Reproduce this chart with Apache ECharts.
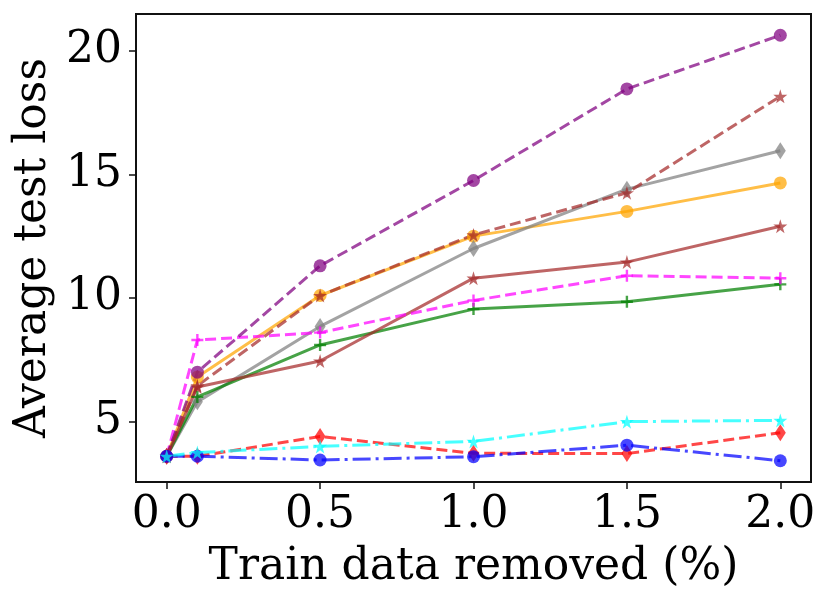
<!DOCTYPE html>
<html>
<head>
<meta charset="utf-8">
<script src="https://cdn.jsdelivr.net/npm/echarts@6/dist/echarts.min.js"></script>
<style>
  html, body { margin: 0; padding: 0; background: #fff; }
  #chart { width: 831px; height: 605px; }
</style>
</head>
<body>
<div id="chart"></div>
<script>
// x positions (% train data removed)
var xs = [0, 0.1, 0.5, 1.0, 1.5, 2.0];
var xTicks = [0, 0.5, 1.0, 1.5, 2.0];
var yTicks = [5, 10, 15, 20];

// series values
var purpleDash = [3.6, 7.0, 11.3, 14.75, 18.45, 20.62];
var brownDash = [3.6, 6.45, 10.1, 12.55, 14.25, 18.15];
var orangeSolid = [3.6, 6.8, 10.1, 12.5, 13.5, 14.65];
var graySolid = [3.6, 5.8, 8.85, 12.0, 14.4, 15.95];
var brownSolid = [3.6, 6.4, 7.45, 10.8, 11.45, 12.9];
var magentaDash = [3.6, 8.3, 8.6, 9.9, 10.9, 10.8];
var greenSolid = [3.6, 6.0, 8.1, 9.55, 9.85, 10.55];
var redDash = [3.6, 3.6, 4.4, 3.72, 3.71, 4.55];
var cyanDashDot = [3.6, 3.75, 4.0, 4.2, 5.0, 5.05];
var blueDashDot = [3.6, 3.6, 3.45, 3.58, 4.05, 3.42];

var STAR = 'path://M50,0 L61,35 L98,35 L68,57 L79,91 L50,70 L21,91 L32,57 L2,35 L39,35 Z';
var PLUS = 'path://M4,0 H6 V4 H10 V6 H6 V10 H4 V6 H0 V4 H4 Z';
var DASH = [11, 5];
var DASHDOT = [18, 5, 3, 5];
var FONT = 'DejaVu Serif';

function pairs(vals) {
  return xs.map(function (x, i) { return [x, vals[i]]; });
}

function line(vals, color, dash, symbol, size) {
  return {
    type: 'line',
    data: pairs(vals),
    symbol: symbol,
    symbolSize: size,
    showAllSymbol: true,
    animation: false,
    lineStyle: { color: color, width: 3, type: dash, opacity: 0.72 },
    itemStyle: { color: color, opacity: 0.72 },
    emphasis: { disabled: true }
  };
}

var chart = echarts.init(document.getElementById('chart'));

chart.setOption({
  animation: false,
  grid: {
    left: 136, right: 20, top: 14, bottom: 123,
    show: true, borderColor: '#111', borderWidth: 2
  },
  xAxis: {
    type: 'value',
    min: -0.1,
    max: 2.1,
    name: 'Train data removed (%)',
    nameLocation: 'middle',
    nameGap: 64,
    nameTextStyle: { fontFamily: FONT, fontSize: 44, color: '#000' },
    axisLine: { show: true, onZero: false, lineStyle: { color: '#111', width: 2 } },
    axisTick: { show: true, length: 7, lineStyle: { color: '#111', width: 1.5 }, customValues: xTicks },
    axisLabel: {
      fontFamily: FONT, fontSize: 44, color: '#000', margin: 12,
      customValues: xTicks,
      formatter: function (v) { return v.toFixed(1); }
    },
    splitLine: { show: false }
  },
  yAxis: {
    type: 'value',
    min: 2.56,
    max: 21.48,
    name: 'Average test loss',
    nameLocation: 'middle',
    nameGap: 80,
    nameTextStyle: { fontFamily: FONT, fontSize: 44, color: '#000' },
    axisLine: { show: true, onZero: false, lineStyle: { color: '#111', width: 2 } },
    axisTick: { show: true, length: 7, lineStyle: { color: '#111', width: 1.5 }, customValues: yTicks },
    axisLabel: {
      fontFamily: FONT, fontSize: 44, color: '#000', margin: 14,
      customValues: yTicks
    },
    splitLine: { show: false }
  },
  series: [
    line(orangeSolid, '#ffa500', 'solid', 'circle', 13),
    line(graySolid, '#808080', 'solid', 'diamond', [11, 17]),
    line(greenSolid, '#008000', 'solid', PLUS, 12),
    line(brownSolid, '#a52a2a', 'solid', STAR, 14),
    line(magentaDash, '#ff00ff', DASH, PLUS, 12),
    line(purpleDash, '#800080', DASH, 'circle', 13),
    line(brownDash, '#a52a2a', DASH, STAR, 14),
    line(redDash, '#ff0000', DASH, 'diamond', [11, 17]),
    line(blueDashDot, '#0000ff', DASHDOT, 'circle', 13),
    line(cyanDashDot, '#00ffff', DASHDOT, STAR, 14)
  ]
});
</script>
</body>
</html>
